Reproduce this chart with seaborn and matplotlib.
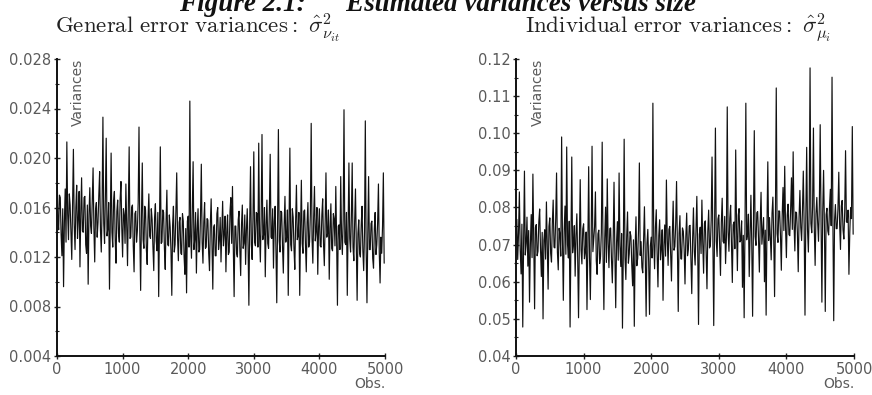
import numpy as np
import pandas as pd
import matplotlib
matplotlib.use("Agg")
import matplotlib.pyplot as plt
from matplotlib.ticker import MultipleLocator, FormatStrFormatter
import seaborn as sns

# General error variances (units of 1e-3), one value every 12.5 observations
sigma_nu_e3 = [
    19.9, 15.1, 14.2, 17.0, 16.8, 13.8, 12.1, 15.9, 9.6, 14.8, 17.5, 13.2, 21.3, 15.5, 13.4, 17.1, 16.2, 14.0, 11.8, 16.3,
    20.7, 14.6, 12.6, 16.0, 17.8, 13.5, 15.1, 17.3, 11.2, 15.6, 18.4, 14.1, 14.0, 16.8, 16.9, 13.0, 12.3, 16.2, 9.8, 15.4,
    17.6, 14.5, 13.9, 16.6, 19.2, 14.3, 11.6, 15.8, 16.4, 13.6, 14.8, 17.0, 18.9, 14.2, 12.4, 16.1, 23.3, 14.7, 13.1, 16.9,
    21.6, 13.7, 14.3, 16.4, 9.4, 15.2, 20.4, 14.0, 12.8, 16.5, 17.3, 13.3, 11.5, 15.7, 16.6, 13.9, 13.2, 16.7, 18.1, 14.4,
    12.0, 15.9, 15.4, 13.1, 17.9, 14.6, 11.3, 16.3, 20.9, 13.5, 13.6, 16.0, 16.2, 12.9, 10.8, 15.5, 15.7, 13.2, 14.1, 16.4,
    22.5, 13.8, 9.3, 15.3, 19.6, 13.4, 12.7, 16.1, 15.8, 12.6, 11.4, 15.0, 17.1, 13.7, 13.5, 15.9, 15.0, 12.8, 10.9, 15.2,
    16.3, 13.3, 12.5, 15.6, 8.8, 14.7, 20.9, 13.1, 13.2, 15.8, 15.6, 12.7, 11.0, 14.9, 17.4, 13.0, 12.9, 15.4, 14.4, 12.5,
    8.9, 14.6, 16.1, 12.4, 13.0, 15.7, 18.8, 13.6, 11.7, 14.8, 15.2, 12.3, 12.2, 15.5, 14.9, 12.0, 10.6, 14.3, 9.1, 14.9,
    15.3, 12.8, 24.6, 13.7, 11.9, 15.8, 19.7, 12.6, 13.4, 15.6, 10.7, 14.2, 15.9, 12.4, 12.6, 15.3, 19.5, 13.2, 11.5, 14.8,
    16.4, 12.7, 12.8, 15.1, 15.0, 12.3, 10.9, 14.7, 16.7, 13.0, 9.4, 14.4, 14.6, 12.1, 12.1, 15.5, 16.0, 12.6, 13.3, 15.2,
    11.6, 14.1, 16.5, 12.9, 13.9, 15.3, 10.8, 14.0, 15.4, 12.2, 12.4, 15.7, 16.8, 13.1, 17.7, 12.8, 8.8, 14.5, 14.5, 12.3,
    12.0, 15.0, 15.7, 12.5, 10.5, 14.6, 16.2, 12.7, 13.1, 15.4, 11.4, 14.2, 15.9, 12.9, 8.1, 14.8, 19.3, 13.0, 11.8, 15.1,
    20.5, 13.2, 12.9, 15.6, 15.5, 12.8, 21.2, 13.9, 11.6, 15.3, 21.9, 13.4, 13.8, 16.0, 10.4, 14.6, 16.6, 13.1, 12.7, 15.8,
    20.3, 13.6, 13.5, 15.9, 11.1, 14.9, 16.1, 12.6, 8.3, 14.7, 22.3, 13.3, 12.4, 15.7, 15.6, 12.9, 10.7, 14.5, 16.9, 13.2,
    13.6, 15.8, 8.9, 14.6, 20.8, 13.0, 12.5, 15.9, 15.2, 12.7, 11.0, 14.9, 17.8, 13.4, 13.7, 15.6, 8.9, 14.2, 18.2, 13.1,
    12.3, 15.7, 15.8, 13.0, 10.8, 14.8, 16.4, 12.8, 13.2, 15.5, 22.8, 13.5, 11.5, 15.2, 17.7, 13.3, 14.1, 16.0, 10.6, 14.4,
    15.9, 12.9, 12.8, 15.4, 16.7, 13.1, 11.3, 14.7, 18.8, 13.6, 13.9, 15.8, 10.2, 14.3, 16.3, 12.7, 12.5, 15.5, 15.1, 12.9,
    17.7, 13.4, 8.1, 14.5, 14.6, 12.6, 18.5, 13.8, 12.2, 15.0, 23.9, 13.2, 13.0, 15.6, 8.9, 14.1, 19.6, 13.5, 12.4, 15.3,
    19.6, 12.8, 11.7, 14.9, 17.5, 12.9, 8.5, 13.9, 15.0, 12.3, 12.0, 14.6, 16.1, 12.5, 10.9, 14.0, 23.0, 12.7, 8.3, 13.8,
    18.5, 12.6, 12.6, 14.7, 14.9, 11.9, 11.1, 14.3, 15.6, 12.2, 13.0, 14.8, 17.9, 12.4, 9.9, 13.6, 12.3, 14.5, 18.8, 11.5,
]

# Individual error variances (units of 1e-3), one value every 12.5 observations
sigma_mu_e3 = [
    72.5, 76.8, 66.0, 73.1, 84.2, 68.4, 62.1, 75.5, 47.8, 70.6, 89.8, 67.2, 70.3, 77.4, 64.2, 73.8, 54.5, 69.9, 78.1, 66.5,
    89.0, 70.7, 52.7, 74.6, 75.4, 67.0, 68.2, 76.1, 79.6, 68.8, 61.4, 73.3, 50.0, 71.2, 74.0, 66.1, 81.5, 70.1, 58.0, 74.9,
    77.2, 67.7, 65.3, 75.8, 82.0, 69.3, 69.1, 77.0, 89.3, 68.0, 63.2, 74.4, 72.8, 66.9, 99.0, 71.5, 55.0, 73.7, 80.4, 67.4,
    96.3, 70.0, 66.4, 76.3, 47.8, 71.9, 93.6, 67.8, 70.2, 75.1, 61.5, 72.7, 78.3, 66.3, 50.3, 70.9, 87.5, 68.6, 64.8, 74.2,
    75.6, 66.2, 68.0, 73.4, 52.5, 69.4, 91.0, 66.7, 55.2, 72.1, 96.5, 68.1, 71.4, 74.8, 84.2, 65.6, 62.0, 72.9, 73.9, 64.9,
    66.7, 73.2, 97.6, 67.5, 52.5, 71.6, 80.1, 65.2, 87.7, 70.4, 63.8, 74.3, 74.5, 66.0, 59.7, 71.0, 86.8, 67.9, 53.0, 70.6,
    76.2, 65.8, 89.3, 69.7, 64.1, 73.0, 47.5, 68.3, 98.4, 66.6, 60.6, 72.2, 78.8, 65.0, 67.5, 73.5, 72.3, 64.6, 58.9, 71.3,
    48.0, 69.2, 77.5, 64.3, 66.3, 73.9, 92.0, 67.1, 70.8, 63.9, 62.4, 71.8, 80.2, 66.8, 50.7, 70.3, 74.1, 65.4, 51.2, 69.6,
    72.0, 66.4, 108.1, 70.8, 63.5, 74.7, 79.4, 67.6, 58.6, 72.4, 76.7, 65.9, 68.9, 74.0, 55.0, 69.8, 75.3, 66.9, 87.4, 71.7,
    64.4, 74.1, 74.9, 67.3, 60.2, 72.6, 81.7, 68.5, 69.5, 75.6, 87.0, 69.0, 52.0, 73.0, 77.8, 66.2, 66.1, 74.5, 73.6, 68.7,
    59.4, 72.3, 78.5, 67.0, 68.7, 75.0, 75.2, 66.5, 56.8, 71.4, 79.9, 68.2, 64.5, 74.2, 83.0, 69.5, 48.5, 72.8, 74.7, 67.6,
    82.0, 70.5, 62.3, 75.7, 76.4, 68.0, 58.1, 73.6, 79.3, 69.1, 69.6, 76.5, 93.6, 70.2, 48.2, 74.0, 101.4, 71.0, 66.8, 76.9,
    78.0, 69.7, 61.7, 75.9, 82.5, 70.9, 70.4, 77.6, 64.9, 72.0, 107.1, 73.4, 68.2, 77.1, 80.6, 70.0, 59.8, 75.3, 76.1, 68.9,
    95.5, 74.6, 63.0, 77.9, 79.7, 70.7, 71.2, 76.4, 58.5, 72.5, 50.3, 74.8, 108.1, 71.3, 72.9, 78.2, 61.4, 73.1, 83.3, 70.4,
    50.7, 75.4, 100.7, 72.2, 69.8, 78.6, 78.9, 71.6, 62.6, 76.2, 84.1, 70.1, 73.5, 77.3, 60.0, 73.9, 51.0, 75.0, 92.3, 71.1,
    77.3, 72.0, 65.9, 78.4, 82.8, 71.8, 56.0, 76.7, 112.2, 73.0, 70.6, 79.1, 79.0, 72.3, 63.1, 77.7, 85.4, 73.8, 91.1, 74.4,
    66.5, 78.0, 80.9, 72.7, 72.4, 79.5, 88.0, 74.1, 95.0, 76.0, 68.3, 78.8, 78.6, 73.3, 62.7, 77.5, 84.6, 74.7, 71.1, 79.2,
    89.8, 75.2, 51.0, 77.8, 96.2, 74.0, 68.0, 79.9, 117.6, 75.7, 73.2, 80.3, 101.4, 74.5, 64.4, 78.3, 82.7, 75.9, 70.9, 80.6,
    102.3, 76.4, 54.5, 79.0, 90.0, 74.9, 52.0, 78.1, 79.8, 73.7, 72.6, 80.0, 84.9, 75.1, 115.1, 77.2, 49.5, 76.6, 80.8, 74.3,
    74.3, 79.6, 89.5, 75.5, 68.7, 80.4, 81.9, 74.0, 71.5, 78.7, 95.3, 76.1, 76.0, 79.3, 62.0, 73.2, 80.0, 77.0, 101.8, 72.8,
]

# observation index for each value
obs = [12.5 * i for i in range(len(sigma_nu_e3))]

x_ticks = [0, 1000, 2000, 3000, 4000, 5000]
left_title = r"$\mathrm{General\ error\ variances:}\ \hat{\sigma}^2_{\nu_{it}}$"
right_title = r"$\mathrm{Individual\ error\ variances:}\ \hat{\sigma}^2_{\mu_i}$"
fig_title = "Figure 2.1:      Estimated variances versus size"

sns.set_theme(style="white")
plt.rcParams["font.family"] = ["DejaVu Sans"]
plt.rcParams["mathtext.fontset"] = "cm"

df_nu = pd.DataFrame({"obs": obs, "var": np.array(sigma_nu_e3) / 1000.0})
df_mu = pd.DataFrame({"obs": obs, "var": np.array(sigma_mu_e3) / 1000.0})

fig = plt.figure(figsize=(8.72, 3.95), dpi=100)
ax1 = fig.add_axes([57 / 872, 39 / 395, 328 / 872, 297 / 395])
ax2 = fig.add_axes([516 / 872, 39 / 395, 338 / 872, 297 / 395])

label_color = "#5a5a5a"
for ax, df, ylim, major, minor, fmt, title, tx in [
    (ax1, df_nu, (0.004, 0.028), 0.004, 0.002, "%.3f", left_title, 197 / 872),
    (ax2, df_mu, (0.04, 0.12), 0.01, 0.005, "%.2f", right_title, 678 / 872),
]:
    sns.lineplot(data=df, x="obs", y="var", ax=ax, color="#111111",
                 linewidth=0.85, estimator=None)
    ax.set_xlim(0, 5000)
    ax.set_ylim(*ylim)
    ax.set_xticks(x_ticks)
    ax.yaxis.set_major_locator(MultipleLocator(major))
    ax.yaxis.set_minor_locator(MultipleLocator(minor))
    ax.yaxis.set_major_formatter(FormatStrFormatter(fmt))
    for s in ["top", "right"]:
        ax.spines[s].set_visible(False)
    for s in ["left", "bottom"]:
        ax.spines[s].set_color("#111111")
        ax.spines[s].set_linewidth(1.4)
    ax.tick_params(axis="both", which="major", direction="inout", length=5,
                   width=1.0, color="#222222", labelsize=10.5,
                   labelcolor=label_color, pad=1.5, left=True, bottom=True)
    ax.tick_params(axis="y", which="minor", direction="inout", length=3,
                   width=0.8, color="#222222", left=True)
    ax.set_xlabel("")
    ax.set_ylabel("")
    ax.text(0.065, 1.0, "Variances", transform=ax.transAxes, rotation=90,
            ha="center", va="top", fontsize=10, color=label_color)
    ax.text(1.0, -0.072, "Obs.", transform=ax.transAxes, ha="right",
            va="top", fontsize=10, color=label_color)
    fig.text(tx, 1 - 33 / 395, title, ha="center", va="baseline",
             fontsize=16.5, color="#222222")

fig.text(437 / 872, 1 - 11 / 395, fig_title, ha="center", va="baseline",
         fontsize=19.5, fontweight="bold", fontstyle="italic",
         family=["Liberation Serif"], color="#111111")

fig.savefig("out.png", dpi=100)
